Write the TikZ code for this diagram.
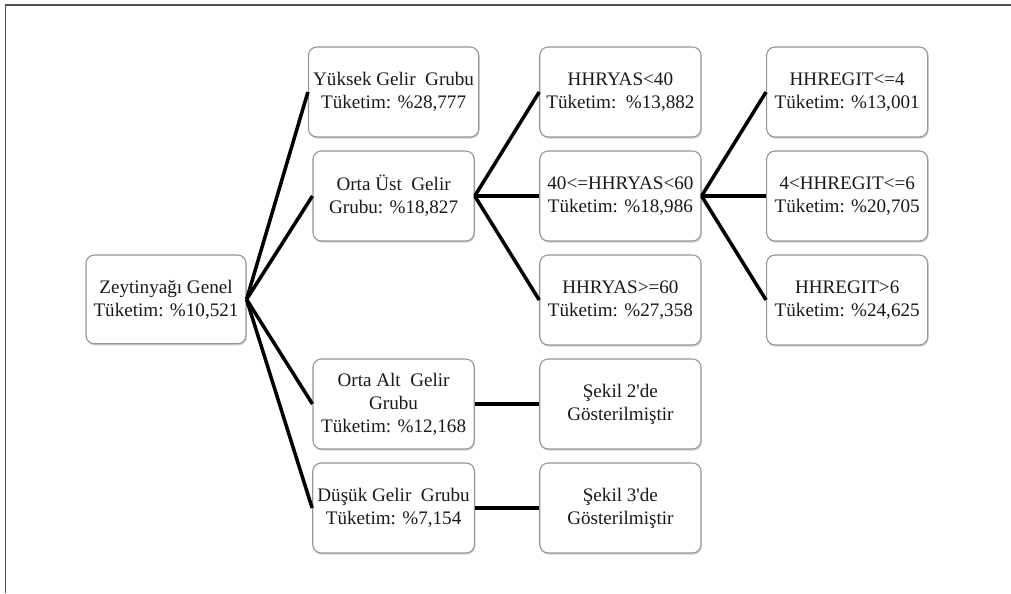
\documentclass[tikz,border=0pt]{standalone}
\usepackage{fontspec}
\setmainfont{Liberation Serif}
\usepackage{xcolor}
\usepackage{tikz}
\usetikzlibrary{positioning, shadows}
\definecolor{mydark}{RGB}{25,25,25}
\definecolor{myframe}{RGB}{80,80,80}
\definecolor{myborder}{RGB}{150,150,150}
\tikzset{
  box/.style={rectangle, draw=myborder, fill=white,
    minimum width=4.03cm, minimum height=2.25cm, align=center,
    font=\fontsize{13.6}{16.4}\selectfont, text=mydark,
    rounded corners=6pt, line width=0.8pt,
    drop shadow={opacity=0.35, shadow xshift=0.6pt, shadow yshift=-1.2pt}},
  line/.style={line width=2.5pt, color=black}
}

\begin{document}
\begin{tikzpicture}
  \useasboundingbox (0,0) rectangle (25.275,14.825);
  % frame (top and left edge only)
  \draw[line width=1.3pt, color=myframe] (0.1375,0) -- (0.1375,14.71) -- (25.275,14.71);

  % root
  \node[box, minimum width=4.0cm, minimum height=2.22cm] (root) at (4.15,7.34)
    {Zeytinyağı Genel\\Tüketim: \%10,521};

  % income groups
  \node[box] (yuksek) at (9.84,12.525) {Yüksek Gelir\ \ Grubu\\Tüketim: \%28,777};
  \node[box] (ortaust) at (9.84,9.925) {Orta Üst\ \ Gelir\\Grubu: \%18,827};
  \node[box] (ortaalt) at (9.84,4.725) {Orta Alt\ \ Gelir\\Grubu\\Tüketim: \%12,168};
  \node[box] (dusuk) at (9.84,2.125) {Düşük Gelir\ \ Grubu\\Tüketim: \%7,154};

  % age of household head
  \node[box] (yas1) at (15.51,12.525) {HHRYAS<40\\Tüketim:\ \ \%13,882};
  \node[box] (yas2) at (15.51,9.925) {40<=HHRYAS<60\\Tüketim: \%18,986};
  \node[box] (yas3) at (15.51,7.325) {HHRYAS>=60\\Tüketim: \%27,358};
  \node[box] (sekil2) at (15.51,4.725) {Şekil 2\textquotesingle de\\Gösterilmiştir};
  \node[box] (sekil3) at (15.51,2.125) {Şekil 3\textquotesingle de\\Gösterilmiştir};

  % education
  \node[box] (egit1) at (21.18,12.525) {HHREGIT<=4\\Tüketim: \%13,001};
  \node[box] (egit2) at (21.18,9.925) {4<HHREGIT<=6\\Tüketim: \%20,705};
  \node[box] (egit3) at (21.18,7.325) {HHREGIT>6\\Tüketim: \%24,625};

  % connectors
  \foreach \n in {yuksek, ortaust, ortaalt, dusuk} {
    \draw[line] (root.east) -- (\n.west);
  }
  \foreach \n in {yas1, yas2, yas3} {
    \draw[line] (ortaust.east) -- (\n.west);
  }
  \foreach \n in {egit1, egit2, egit3} {
    \draw[line] (yas2.east) -- (\n.west);
  }
  \draw[line] (ortaalt.east) -- (sekil2.west);
  \draw[line] (dusuk.east) -- (sekil3.west);
\end{tikzpicture}
\end{document}
